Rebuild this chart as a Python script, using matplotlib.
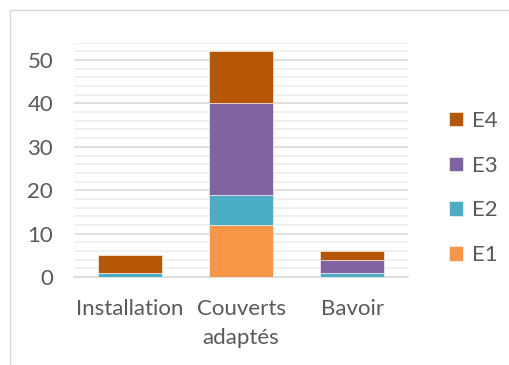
import matplotlib
matplotlib.use("Agg")
import matplotlib.pyplot as plt
from matplotlib.patches import Rectangle
import numpy as np

categories = ["Installation", "Couverts\nadaptés", "Bavoir"]
series_names = ["E1", "E2", "E3", "E4"]
E1 = [0, 12, 0]
E2 = [1, 7, 1]
E3 = [0, 21, 3]
E4 = [4, 12, 2]
colors = ["#F79646", "#4BACC6", "#8064A2", "#B65708"]

plt.rcParams['font.family'] = ['Lato', 'DejaVu Sans']
fs = 16

fig = plt.figure(figsize=(5.09, 3.65), dpi=100)
ax = fig.add_axes([74/509, 1-277/365, (408-74)/509, (277-42.7)/365])

x = np.arange(len(categories))
bottom = np.zeros(len(categories))
handles = []
for name, vals, c in zip(series_names, [E1, E2, E3, E4], colors):
    b = ax.bar(x, vals, bottom=bottom, width=0.575, color=c, label=name,
               edgecolor="white", linewidth=0.4, zorder=3)
    handles.append(b)
    bottom += np.array(vals)

ax.set_xlim(-0.5, len(categories) - 0.5)
ax.set_ylim(0, 54)
ax.set_yticks(np.arange(0, 51, 10))
ax.set_yticks(np.arange(0, 55, 2), minor=True)
ax.grid(axis='y', which='minor', color='#efefef', linewidth=1.3, zorder=0)
ax.grid(axis='y', which='major', color='#d9d9d9', linewidth=1.2, zorder=1)
ax.set_xticks(x)
ax.set_xticklabels(categories, fontsize=fs, color='#595959', linespacing=1.55)
ax.tick_params(axis='both', which='both', length=0)
ax.tick_params(axis='y', labelsize=fs, labelcolor='#595959', pad=15)
ax.tick_params(axis='x', pad=16)
for s in ['top', 'right', 'left']:
    ax.spines[s].set_visible(False)
ax.spines['bottom'].set_color('#d9d9d9')
ax.spines['bottom'].set_linewidth(1.2)
ax.spines['bottom'].set_zorder(2)

leg = fig.legend(handles[::-1], series_names[::-1], loc='center left',
                 bbox_to_anchor=(438/509, 1-188/365), frameon=False,
                 fontsize=fs, handlelength=0.62, handleheight=0.62,
                 labelspacing=1.12, handletextpad=0.4, borderpad=0)
for t in leg.get_texts():
    t.set_color('#595959')

fig.patches.append(Rectangle((9.5/509, -0.1), 1.2, 1 - 9.5/365 + 0.1,
                             transform=fig.transFigure, fill=False,
                             edgecolor='#d9d9d9', linewidth=1.0))

fig.savefig("out.png", dpi=100, facecolor='white')
